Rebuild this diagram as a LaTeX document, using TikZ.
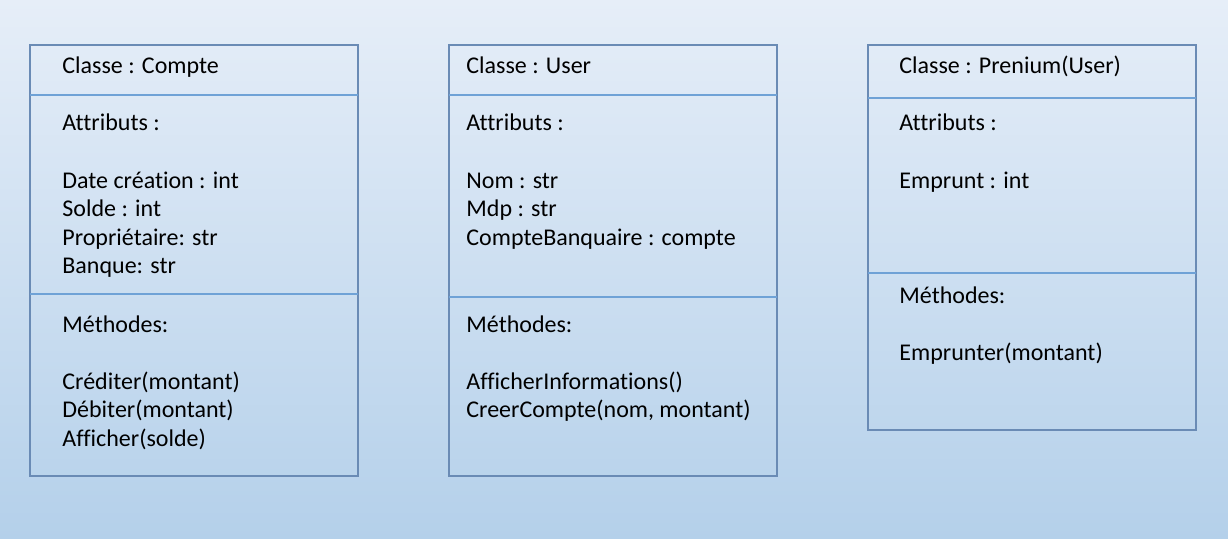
\documentclass[tikz,border=0pt]{standalone}
\usepackage{fontspec}
\setmainfont[Ligatures=NoCommon]{Carlito}
\usepackage{tikz}
\usetikzlibrary{positioning}
\definecolor{bgtop}{HTML}{E6EEF8}
\definecolor{bgbottom}{HTML}{B4D0EA}
\definecolor{boxline}{HTML}{6A8BB5}
\definecolor{sepline}{HTML}{6FA2D6}
\tikzstyle{classbox} = [draw=boxline,line width=0.8pt]
\tikzstyle{sep} = [draw=sepline,line width=0.7pt]
\tikzstyle{txt} = [anchor=base west,inner sep=0pt,font=\fontsize{12}{14.25}\selectfont]

\begin{document}
\begin{tikzpicture}[x=0.5pt,y=-0.5pt]
        \shade[top color=bgtop,bottom color=bgbottom] (0,0) rectangle (1228,539);
        \useasboundingbox (0,0) rectangle (1228,539);

        % Compte
        \draw[classbox] (30,45) rectangle (358,476);
        \draw[sep] (30,95) to (358,95) (30,294) to (358,294);
        \node[txt] (comptename) at (62,73.5) {Classe : Compte};
        \node[txt] (compteattr) at (62,130.5) {Attributs :};
        \foreach \t [count=\i] in {Date création : int,Solde : int,Propriétaire: str,Banque: str}
            \node[txt] (compteattr\i) at (62,{188.5+28.5*(\i-1)}) {\t};
        \node[txt] (comptemeth) at (62,332.5) {Méthodes:};
        \foreach \t [count=\i] in {Créditer(montant),Débiter(montant),Afficher(solde)}
            \node[txt] (comptemeth\i) at (62,{389.5+28.5*(\i-1)}) {\t};

        % User
        \draw[classbox] (449,45) rectangle (777,476);
        \draw[sep] (449,95) to (777,95) (449,297) to (777,297);
        \node[txt] (username) at (466,73.5) {Classe : User};
        \node[txt] (userattr) at (466,130.5) {Attributs :};
        \foreach \t [count=\i] in {Nom : str,Mdp : str,CompteBanquaire : compte}
            \node[txt] (userattr\i) at (466,{188.5+28.5*(\i-1)}) {\t};
        \node[txt] (usermeth) at (466,332.5) {Méthodes:};
        \foreach \t [count=\i] in {AfficherInformations(),{CreerCompte(nom, montant)}}
            \node[txt] (usermeth\i) at (466,{389.5+28.5*(\i-1)}) {\t};

        % Prenium
        \draw[classbox] (868,45) rectangle (1196,430);
        \draw[sep] (868,98) to (1196,98) (868,273) to (1196,273);
        \node[txt] (preniumname) at (899,73.5) {Classe : Prenium(User)};
        \node[txt] (preniumattr) at (899,130.5) {Attributs :};
        \node[txt] (preniumattr1) at (899,188.5) {Emprunt : int};
        \node[txt] (preniummeth) at (899,303.5) {Méthodes:};
        \node[txt] (preniummeth1) at (899,360.5) {Emprunter(montant)};
    \end{tikzpicture}
\end{document}
